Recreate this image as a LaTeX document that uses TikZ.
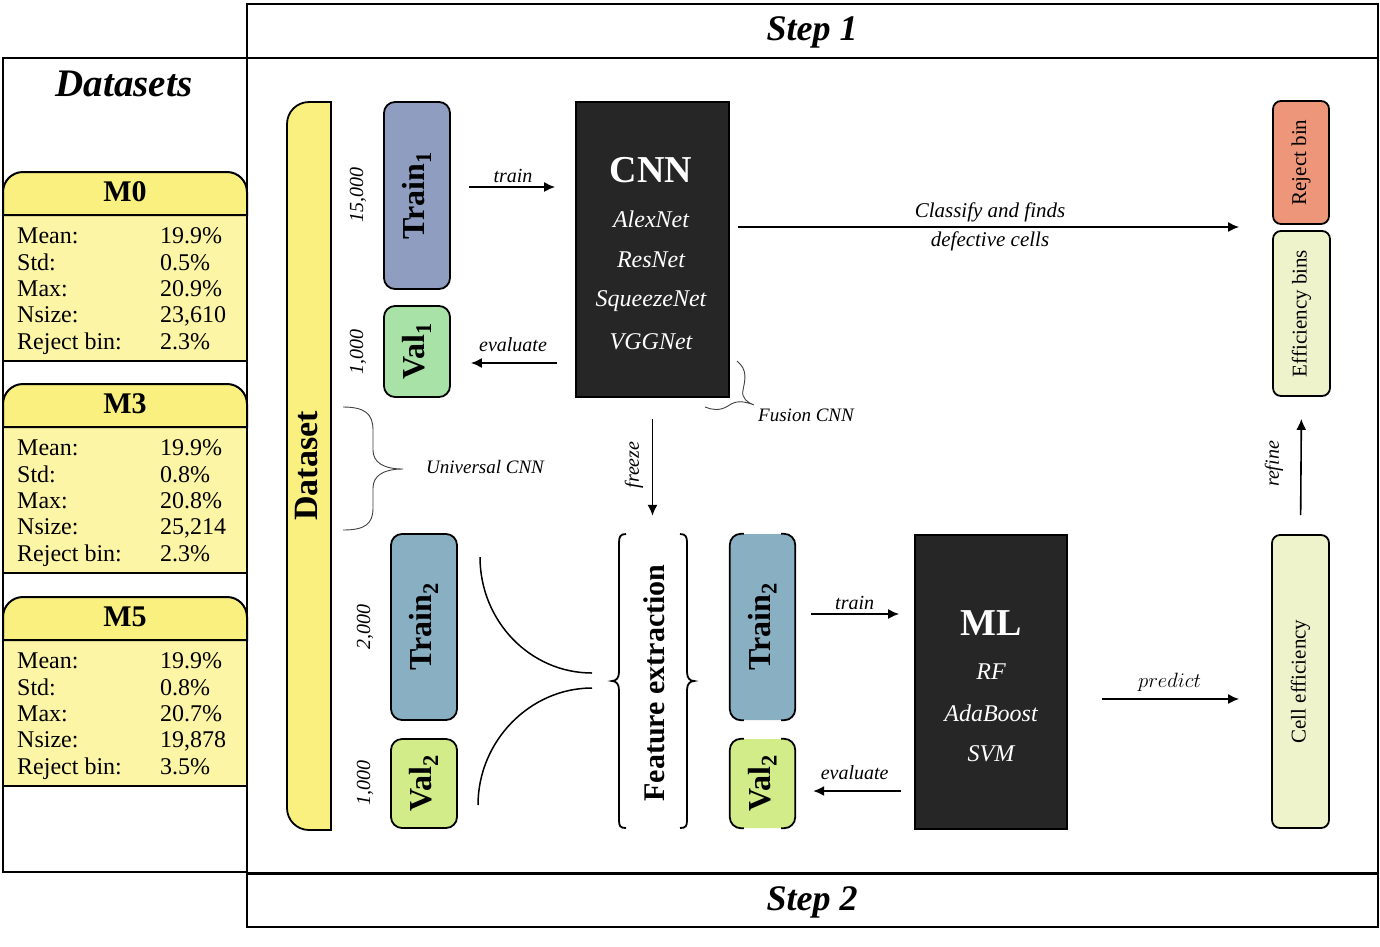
\documentclass[tikz,border=0pt]{standalone}
\usepackage{fontspec}
\setmainfont{Liberation Serif}
\usetikzlibrary{arrows.meta}
\newcommand\fsz[1]{\fontsize{#1}{#1}\selectfont}
\definecolor{hdr}{HTML}{F9F07F}
\definecolor{bodyc}{HTML}{FDF5A6}
\definecolor{trainA}{HTML}{8F9DC1}
\definecolor{valA}{HTML}{A8E2A6}
\definecolor{trainB}{HTML}{88AFC2}
\definecolor{valB}{HTML}{D1EC89}
\definecolor{darkc}{HTML}{262626}
\definecolor{rej}{HTML}{EE967A}
\definecolor{eff}{HTML}{EEF3CC}
\tikzset{
  frame/.style={draw, line width=2pt},
  box/.style={draw, line width=1.8pt, rounded corners=11pt, inner sep=0pt},
  darkbox/.style={draw, line width=1.8pt, fill=darkc, inner sep=0pt},
  arr/.style={line width=1.6pt, -{Latex[length=11pt,width=10pt]}},
  lab/.style={font=\itshape\fsz{20}, inner sep=1pt},
  row/.style={anchor=west, font=\fsz{24}, inner sep=0pt, text height=16pt, text depth=5pt},
  wt/.style={text=white, font=\itshape\fsz{24}, inner sep=0pt},
  bigw/.style={text=white, font=\bfseries\fsz{38}, inner sep=0pt},
  numlab/.style={rotate=90, font=\itshape\fsz{20}, inner sep=0pt},
  brace/.style={line width=0.9pt, black!75},
}
\newcommand\mycard[7]{%
  \fill[bodyc] (3,{#1+43}) rectangle (247,{#1+189});
  \draw[line width=2pt] (3,{#1+189}) -- (247,{#1+189});
  \draw[line width=2pt, fill=hdr] (3,{#1+43}) -- (3,{#1+20}) arc[start angle=180, end angle=270, radius=20] -- (227,#1) arc[start angle=270, end angle=360, radius=20] -- (247,{#1+43}) -- cycle;
  \node[font=\bfseries\fsz{30}] (#2t) at (125,{#1+20}) {#2};
  \node[row] (#2a) at (17,{#1+66}) {Mean:};
  \node[row] (#2av) at (160,{#1+66}) {#3};
  \node[row] (#2b) at (17,{#1+93}) {Std:};
  \node[row] (#2bv) at (160,{#1+93}) {#4};
  \node[row] (#2c) at (17,{#1+119}) {Max:};
  \node[row] (#2cv) at (160,{#1+119}) {#5};
  \node[row] (#2d) at (17,{#1+145}) {Nsize:};
  \node[row] (#2dv) at (160,{#1+145}) {#6};
  \node[row] (#2e) at (17,{#1+172}) {Reject bin:};
  \node[row] (#2ev) at (160,{#1+172}) {#7};
}
\begin{document}
\begin{tikzpicture}[x=1pt,y=-1pt]
\useasboundingbox (0,0) rectangle (1380,946);
\fill[white] (0,0) rectangle (1380,946);

% cards
\mycard{172}{M0}{19.9\%}{0.5\%}{20.9\%}{23,610}{2.3\%}
\mycard{384}{M3}{19.9\%}{0.8\%}{20.8\%}{25,214}{2.3\%}
\mycard{597}{M5}{19.9\%}{0.8\%}{20.7\%}{19,878}{3.5\%}

% frames
\draw[frame] (247,4) rectangle (1378,58);
\draw[frame] (247,58) rectangle (1378,873);
\draw[frame] (247,873) rectangle (1378,927);
\draw[frame] (3,58) rectangle (247,872);
\draw[line width=3pt] (247,873) -- (1378,873);

\node[font=\bfseries\itshape\fsz{36}] (step1) at (812,32) {Step 1};
\node[font=\bfseries\itshape\fsz{36}] (step2) at (812,902) {Step 2};
\node[font=\bfseries\itshape\fsz{39}] (datasets) at (124,84) {Datasets};

% dataset bar
\draw[line width=1.8pt, fill=hdr] (331,830) -- (331,102) -- (309,102) arc[start angle=270, end angle=180, radius=22] -- (287,808) arc[start angle=180, end angle=90, radius=22] -- cycle;
\node[rotate=90, font=\bfseries\fsz{34}] (dataset) at (307,466) {Dataset};

% step 1 boxes
\node[box, fill=trainA, minimum width=66pt, minimum height=187pt, font=\bfseries\fsz{32}] (train1) at (417,195.5) {\rotatebox{90}{Train\textsubscript{1}}};
\node[box, fill=valA, minimum width=66pt, minimum height=91pt, font=\bfseries\fsz{32}] (val1) at (417,351.5) {\rotatebox{90}{Val\textsubscript{1}}};
\node[numlab] (n15) at (358,195) {15,000};
\node[numlab] (n1a) at (358,352) {1,000};

\node[darkbox, minimum width=153pt, minimum height=295pt] (cnn) at (652.5,249.5) {};
\node[bigw] (cnnT) at (651,170) {CNN};
\node[wt] (cnn1) at (651,219) {AlexNet};
\node[wt] (cnn2) at (651,260) {ResNet};
\node[wt] (cnn3) at (651,301) {SqueezeNet};
\node[wt] (cnn4) at (651,342) {VGGNet};

\node[box, rounded corners=8pt, fill=rej, minimum width=56pt, minimum height=123pt, font=\fsz{21}] (reject) at (1301,162.5) {\rotatebox{90}{Reject bin}};
\node[box, rounded corners=8pt, fill=eff, minimum width=57pt, minimum height=165pt, font=\fsz{21}] (effb) at (1301.5,313.5) {\rotatebox{90}{Efficiency bins}};
\node[box, rounded corners=8pt, fill=eff, minimum width=57pt, minimum height=293pt, font=\fsz{21}] (cell) at (1300.5,681.5) {\rotatebox{90}{Cell efficiency}};

% step 2 boxes (left)
\node[box, fill=trainB, minimum width=66pt, minimum height=186pt, font=\bfseries\fsz{32}] (train2L) at (424,627) {\rotatebox{90}{Train\textsubscript{2}}};
\node[box, fill=valB, minimum width=66pt, minimum height=89pt, font=\bfseries\fsz{32}] (val2L) at (424,783.5) {\rotatebox{90}{Val\textsubscript{2}}};
\node[numlab] (n2) at (365,627) {2,000};
\node[numlab] (n1b) at (365,783) {1,000};

% step 2 boxes (right), borders only at the sides
\node[rounded corners=11pt, fill=trainB, minimum width=65pt, minimum height=186pt, inner sep=0pt, font=\bfseries\fsz{32}] (train2R) at (762.5,627) {\rotatebox{90}{Train\textsubscript{2}}};
\node[rounded corners=11pt, fill=valB, minimum width=65pt, minimum height=89pt, inner sep=0pt, font=\bfseries\fsz{32}] (val2R) at (762.5,783.5) {\rotatebox{90}{Val\textsubscript{2}}};
\draw[line width=1.8pt, rounded corners=11pt] ([xshift=14pt]train2R.north west) -- (train2R.north west) -- (train2R.south west) -- ([xshift=14pt]train2R.south west);
\draw[line width=1.8pt, rounded corners=11pt] ([xshift=-14pt]train2R.north east) -- (train2R.north east) -- (train2R.south east) -- ([xshift=-14pt]train2R.south east);
\draw[line width=1.8pt, rounded corners=11pt] ([xshift=14pt]val2R.north west) -- (val2R.north west) -- (val2R.south west) -- ([xshift=14pt]val2R.south west);
\draw[line width=1.8pt, rounded corners=11pt] ([xshift=-14pt]val2R.north east) -- (val2R.north east) -- (val2R.south east) -- ([xshift=-14pt]val2R.south east);

\node[darkbox, minimum width=152pt, minimum height=294pt] (ml) at (991,682) {};
\node[bigw] (mlT) at (991,623) {ML};
\node[wt] (ml1) at (991,672) {RF};
\node[wt] (ml2) at (991,713) {AdaBoost};
\node[wt] (ml3) at (991,754) {SVM};

% feature extraction
\draw[line width=1.8pt] (626,534) .. controls (620,534) and (619,537) .. (619,543) -- (619,672) .. controls (619,678) and (616,681) .. (612,681) .. controls (616,681) and (619,684) .. (619,690) -- (619,820) .. controls (619,826) and (620,828) .. (626,828);
\draw[line width=1.8pt] (680,534) .. controls (686,534) and (687,537) .. (687,543) -- (687,672) .. controls (687,678) and (690,681) .. (694,681) .. controls (690,681) and (687,684) .. (687,690) -- (687,820) .. controls (687,826) and (686,828) .. (680,828);
\node[rotate=90, font=\bfseries\fsz{30}] (fe) at (654,683) {Feature extraction};

% merging curves
\draw[line width=1.5pt] (480,557) .. controls (480,621) and (530,673) .. (592,673);
\draw[line width=1.5pt] (592,688) .. controls (530,688) and (478,741) .. (478,805);

% braces
\draw[brace] (343,407) .. controls (365,407) and (373,414) .. (373,430) -- (373,450) .. controls (373,462) and (383,469) .. (403,469) .. controls (383,469) and (373,476) .. (373,488) -- (373,508) .. controls (373,524) and (365,530) .. (343,530);
\node[lab, font=\itshape\fsz{19}] (ucnn) at (485,467) {Universal CNN};
\draw[brace] (737,361) .. controls (748,370) and (745,380) .. (743,390) .. controls (741,398) and (748,403) .. (754,405) .. controls (744,401) and (736,400) .. (728,406) .. controls (720,411) and (712,410) .. (705,407);
\node[lab, font=\itshape\fsz{19}] (fcnn) at (806,415) {Fusion CNN};

% y levels
\coordinate (y187) at (0,187);
\coordinate (y363) at (0,363);
\coordinate (y227) at (0,227);
\coordinate (y614) at (0,614);
\coordinate (y791) at (0,791);
\coordinate (y699) at (0,699);

% arrows
\draw[arr, shorten <=18pt, shorten >=20pt] (train1.east |- y187) -- node[lab, above=3pt] {train} (cnn.west |- y187);
\draw[arr, shorten <=18pt, shorten >=20pt] (cnn.west |- y363) -- node[lab, above=9pt] {evaluate} (val1.east |- y363);
\draw[arr, shorten <=8pt, shorten >=33pt] (cnn.east |- y227) -- node[lab, above=3pt, xshift=-11pt, font=\itshape\fsz{21}] {Classify and finds} node[lab, below=3pt, xshift=-11pt, font=\itshape\fsz{21}] {defective cells} (reject.west |- y227);
\draw[arr, shorten <=21pt, shorten >=18pt] (cnn.south) -- (cnn.south |- train2R.north);
\node[lab, rotate=90] (frz) at (634,465) {freeze};
\draw[arr, shorten <=16pt, shorten >=15pt] (train2R.east |- y614) -- node[lab, above=3pt] {train} (ml.west |- y614);
\draw[arr, shorten <=13pt, shorten >=18pt] (ml.west |- y791) -- node[lab, above=9pt] {evaluate} (val2R.east |- y791);
\draw[arr, shorten <=34pt, shorten >=32pt] (ml.east |- y699) -- node[lab, above=6pt, font=\fsz{20}] {$predict$} (cell.west |- y699);
\draw[arr, shorten <=19pt, shorten >=22pt] (cell.north) -- (effb.south);
\node[lab, rotate=90] (rfn) at (1274,464) {refine};
\end{tikzpicture}
\end{document}
